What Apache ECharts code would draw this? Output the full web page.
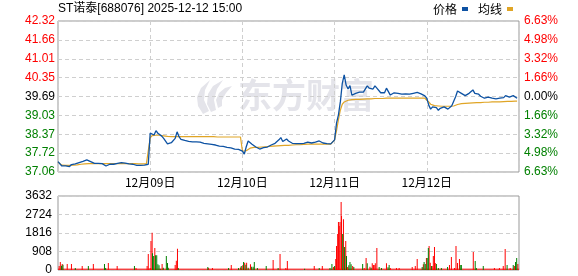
<!DOCTYPE html>
<html><head><meta charset="utf-8">
<script src="https://cdn.jsdelivr.net/npm/echarts@6/dist/echarts.min.js"></script>
<style>html,body{margin:0;padding:0;background:#fff}#c{width:578px;height:276px}</style>
</head><body><div id="c"></div>
<script>
const titleText = 'ST诺泰[688076] 2025-12-12 15:00';
const dayLabels = ['', '12月09日', '12月10日', '12月11日', '12月12日', ''];
const priceTicks = ['37.06','37.72','38.37','39.03','39.69','40.35','41.01','41.66','42.32'];
const pctTicks = ['6.63%','4.98%','3.32%','1.66%','0.00%','1.66%','3.32%','4.98%','6.63%'];
const volTicks = ['0','908','1816','2724','3632'];
const prevClose = 39.69;
const tickStep = 0.6575;

// 5-minute samples, 48 per trading day
const price1 = [37.42,37.38,37.27,37.25,37.27,37.26,37.25,37.32,37.31,37.34,37.37,37.39,37.41,37.43,37.46,37.48,37.46,37.42,37.37,37.36,37.35,37.36,37.34,37.35,37.31,37.27,37.31,37.33,37.34,37.33,37.32,37.36,37.38,37.39,37.38,37.37,37.35,37.34,37.35,37.33,37.31,37.29,37.30,37.29,37.29,37.30,37.27,37.33];
const price2 = [38.42,38.46,38.35,38.50,38.41,38.35,38.31,38.23,38.18,38.04,38.06,38.08,38.06,38.23,38.46,38.29,38.20,38.18,38.16,38.15,38.13,38.12,38.11,38.12,38.11,38.08,38.10,38.09,38.06,38.04,38.04,38.00,38.02,37.98,38.00,37.94,37.96,37.93,37.95,37.91,37.92,37.89,37.90,37.89,37.86,37.87,37.85,37.83];
const price3 = [37.79,37.68,37.94,38.14,38.10,38.03,37.98,37.93,37.89,37.86,37.89,37.91,37.94,37.93,37.98,38.00,38.03,38.06,38.10,38.18,38.26,38.12,38.14,38.21,38.14,38.10,38.06,38.08,38.05,38.03,38.05,38.03,38.06,38.08,38.10,38.06,38.07,38.05,38.10,38.12,38.14,38.10,38.07,38.10,38.05,38.03,38.04,38.00];
const price4 = [38.18,38.76,39.05,39.51,40.15,40.44,40.09,39.95,40.07,39.74,39.77,39.80,39.79,39.84,39.82,39.84,39.86,40.06,39.98,40.03,39.95,40.06,39.98,39.92,39.82,39.80,39.82,39.98,39.86,39.74,39.80,39.82,39.78,39.80,39.80,39.77,39.80,39.78,39.79,39.77,39.78,39.80,39.82,39.83,39.80,39.78,39.74,39.71];
const price5 = [39.63,39.39,39.25,39.33,39.28,39.30,39.21,39.28,39.30,39.33,39.28,39.25,39.31,39.37,39.42,39.68,39.88,39.92,39.80,39.77,39.72,39.68,39.80,39.84,39.92,39.80,39.74,39.77,39.70,39.65,39.63,39.65,39.67,39.65,39.63,39.65,39.61,39.56,39.63,39.59,39.65,39.72,39.68,39.67,39.68,39.72,39.74,39.63];

const avg1 = [37.40,37.34,37.30,37.29,37.29,37.29,37.29,37.30,37.30,37.31,37.31,37.32,37.33,37.33,37.34,37.35,37.35,37.35,37.35,37.35,37.35,37.35,37.35,37.35,37.35,37.35,37.35,37.35,37.35,37.35,37.35,37.35,37.35,37.35,37.35,37.35,37.35,37.35,37.35,37.35,37.35,37.34,37.34,37.34,37.34,37.34,37.34,37.34];
const avg2 = [38.25,38.33,38.33,38.34,38.34,38.34,38.33,38.32,38.31,38.30,38.30,38.29,38.29,38.29,38.29,38.29,38.29,38.29,38.29,38.29,38.29,38.29,38.29,38.29,38.29,38.29,38.29,38.29,38.29,38.29,38.29,38.29,38.29,38.29,38.29,38.28,38.28,38.28,38.28,38.28,38.28,38.28,38.28,38.28,38.28,38.28,38.28,38.28];
const avg3 = [37.79,37.74,37.80,37.86,37.89,37.91,37.92,37.92,37.92,37.93,37.93,37.94,37.94,37.94,37.95,37.95,37.96,37.96,37.97,37.97,37.98,37.98,37.99,37.99,37.99,38.00,38.00,38.00,38.01,38.01,38.01,38.02,38.02,38.02,38.03,38.03,38.03,38.03,38.03,38.03,38.03,38.03,38.03,38.03,38.03,38.03,38.03,38.03];
const avg4 = [38.18,38.50,38.88,39.22,39.42,39.50,39.54,39.56,39.57,39.58,39.58,39.59,39.59,39.59,39.60,39.60,39.60,39.61,39.61,39.61,39.62,39.62,39.62,39.62,39.62,39.62,39.63,39.63,39.63,39.63,39.63,39.63,39.63,39.63,39.63,39.63,39.63,39.63,39.63,39.63,39.63,39.63,39.63,39.63,39.63,39.63,39.63,39.63];
const avg5 = [39.63,39.50,39.42,39.39,39.37,39.36,39.36,39.35,39.35,39.35,39.35,39.35,39.35,39.36,39.36,39.38,39.41,39.43,39.44,39.45,39.45,39.46,39.46,39.47,39.47,39.48,39.48,39.48,39.48,39.49,39.49,39.49,39.49,39.49,39.50,39.50,39.50,39.50,39.50,39.51,39.51,39.51,39.52,39.52,39.52,39.52,39.53,39.53];

// volume per minute [minute, volume]
const upVol = [[3,196],[6,393],[11,295],[24,295],[35,295],[63,196],[92,295],[131,344],[154,196],[203,98],[232,196],[235,785],[240,98],[242,1423],[245,1832],[252,1080],[271,295],[305,245],[308,458],[311,1047],[392,98],[402,98],[451,245],[475,120],[481,229],[486,360],[491,360],[501,278],[560,491],[578,785],[593,98],[597,442],[667,196],[688,196],[717,150],[723,540],[725,1178],[728,1767],[730,2356],[732,2160],[734,2356],[737,3337],[738,2650],[743,2487],[749,1423],[754,150],[767,196],[797,98],[802,589],[812,160],[818,327],[821,245],[823,245],[826,327],[830,1080],[855,327],[865,98],[881,98],[888,98],[922,150],[930,196],[935,540],[951,278],[959,589],[966,1178],[969,360],[974,196],[977,687],[980,1129],[982,344],[1019,245],[1024,638],[1032,98],[1036,1178],[1040,344],[1045,540],[1081,883],[1136,98],[1149,98],[1159,196],[1164,1031],[1177,98],[1188,196],[1197,295]];
const downVol = [[9,213],[13,262],[45,98],[79,196],[121,295],[124,98],[199,196],[246,818],[249,687],[254,720],[257,720],[260,278],[263,229],[266,65],[274,115],[282,687],[285,344],[287,115],[313,98],[390,147],[444,98],[470,98],[477,196],[483,393],[489,262],[495,115],[504,164],[508,164],[511,393],[519,98],[542,196],[573,98],[642,65],[680,98],[708,98],[713,295],[720,196],[741,1767],[746,1129],[751,687],[757,229],[760,393],[763,278],[770,150],[793,295],[805,327],[815,115],[836,150],[842,98],[859,130],[862,245],[948,150],[953,393],[956,295],[961,589],[964,1080],[972,196],[985,295],[990,98],[998,98],[1014,150],[1047,245],[1050,245],[1086,442],[1089,98],[1107,196],[1169,245],[1185,245],[1191,393],[1194,589]];
const floorVol = [[0,40],[1200,40]];

const priceDays = [price1, price2, price3, price4, price5];
const avgDays = [avg1, avg2, avg3, avg4, avg5];
const toUnit = p => (p - prevClose) / tickStep;
function build(days) {
  const out = [];
  days.forEach((arr, d) => arr.forEach((p, i) => out.push([d * 240 + i * 5, toUnit(p)])));
  return out;
}
const RED = '#ff0000', GREEN = '#008000';
const volData = upVol.map(v => ({ value: v, itemStyle: { color: RED } }))
  .concat(downVol.map(v => ({ value: v, itemStyle: { color: GREEN } })));

const labelColor = v => {
  const n = Math.round(Number(v));
  if (n > 0) return RED;
  if (n < 0) return GREEN;
  return '#000';
};
const dash = { type: [4, 3], color: '#cfcfcf', width: 1 };
const lblFont = 'Liberation Sans, Arial, sans-serif';
const wm = '#e4e4ea';

const chart = echarts.init(document.getElementById('c'), null, { renderer: 'canvas' });
chart.setOption({
  animation: false,
  backgroundColor: '#fff',
  title: { text: titleText, left: 58, top: 3, padding: 0, textStyle: { fontSize: 12, fontWeight: 'normal', color: '#000', fontFamily: 'Liberation Sans, Noto Sans CJK SC, sans-serif' } },
  legend: {
    right: 65, top: 3, padding: 0, align: 'right', itemWidth: 6, itemHeight: 4, itemGap: 10, icon: 'rect',
    textStyle: { fontSize: 12, color: '#000', fontFamily: 'Noto Sans CJK SC, sans-serif' },
    data: ['价格', '均线']
  },
  graphic: [
    { type: 'polygon', z: 0, silent: true, shape: { points: [[203,114],[198,106],[197,97],[201,88],[210,80],[205,90],[204,100],[209,111]] }, style: { fill: wm } },
    { type: 'polygon', z: 0, silent: true, shape: { points: [[211,112],[207,104],[208,94],[213,86],[223,80],[217,89],[214,100],[216,110]] }, style: { fill: wm } },
    { type: 'polygon', z: 0, silent: true, shape: { points: [[218,108],[216,100],[219,93],[225,88],[232,86],[226,93],[222,100],[222,106]] }, style: { fill: wm } },
    { type: 'text', z: 0, silent: true, left: 238, top: 78, style: { text: '东方财富', fontSize: 34, fontWeight: 'bold', fontFamily: 'Noto Sans CJK SC, sans-serif', fill: wm } }
  ],
  grid: [
    { left: 58, right: 59, top: 21, height: 151, show: true, borderColor: '#999', borderWidth: 1, backgroundColor: 'transparent' },
    { left: 58, right: 59, top: 196, height: 74, show: true, borderColor: '#999', borderWidth: 1, backgroundColor: 'transparent' }
  ],
  xAxis: [
    { type: 'value', gridIndex: 0, min: 0, max: 1200, interval: 240,
      axisLine: { show: false }, axisTick: { show: false },
      axisLabel: { margin: 4, fontSize: 12, color: '#000', fontFamily: 'Noto Sans CJK SC, sans-serif', formatter: v => dayLabels[Math.round(v / 240)] },
      splitLine: { show: true, lineStyle: dash } },
    { type: 'value', gridIndex: 1, min: 0, max: 1200, interval: 240,
      axisLine: { show: false }, axisTick: { show: false }, axisLabel: { show: false }, splitLine: { show: false } }
  ],
  yAxis: [
    { type: 'value', gridIndex: 0, position: 'left', min: -4, max: 4, interval: 1,
      axisLine: { show: false }, axisTick: { show: false },
      axisLabel: { margin: 3, fontSize: 12, fontFamily: lblFont, formatter: v => priceTicks[Math.round(v) + 4], color: v => labelColor(v) },
      splitLine: { show: true, lineStyle: dash } },
    { type: 'value', gridIndex: 0, position: 'right', min: -4, max: 4, interval: 1,
      axisLine: { show: false }, axisTick: { show: false },
      axisLabel: { margin: 5, fontSize: 12, fontFamily: lblFont, formatter: v => pctTicks[Math.round(v) + 4], color: v => labelColor(v) },
      splitLine: { show: false } },
    { type: 'value', gridIndex: 1, min: 0, max: 3632, interval: 908,
      axisLine: { show: false }, axisTick: { show: false },
      axisLabel: { margin: 6, fontSize: 12, fontFamily: lblFont, color: '#000', formatter: v => volTicks[Math.round(v / 908)] },
      splitLine: { show: true, lineStyle: dash } }
  ],
  series: [
    { name: '均线', type: 'line', xAxisIndex: 0, yAxisIndex: 0, data: build(avgDays), showSymbol: false, symbol: 'none',
      lineStyle: { color: '#e0a526', width: 1.2 }, itemStyle: { color: '#e0a526' }, z: 3 },
    { name: '价格', type: 'line', xAxisIndex: 0, yAxisIndex: 0, data: build(priceDays), showSymbol: false, symbol: 'none',
      lineStyle: { color: '#0d52a3', width: 1.3 }, itemStyle: { color: '#0d52a3' }, z: 4 },
    { name: 'floor', type: 'line', xAxisIndex: 1, yAxisIndex: 2, data: floorVol, showSymbol: false, symbol: 'none',
      lineStyle: { color: RED, width: 1 }, z: 2 },
    { name: 'vol', type: 'bar', xAxisIndex: 1, yAxisIndex: 2, data: volData, barWidth: 1, z: 3 }
  ]
});
</script></body></html>
